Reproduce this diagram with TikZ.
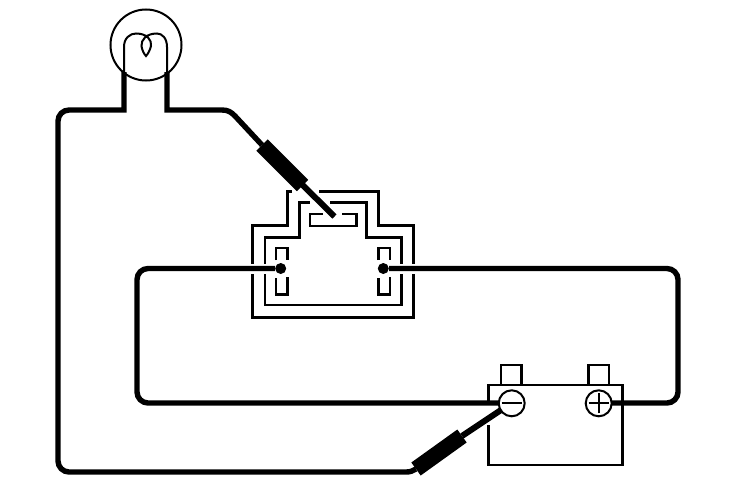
\documentclass[tikz,border=0pt]{standalone}
\tikzset{
  wire/.style={line width=5.4pt,line join=miter},
  thin line/.style={line width=2.5pt,line join=miter},
  fine line/.style={line width=2pt},
  sleeve/.style={line width=16pt,line cap=butt},
  dotnode/.style={circle,fill=black,inner sep=0pt,minimum size=11pt},
  terminal/.style={circle,draw=black,fill=white,line width=2pt,inner sep=0pt,minimum size=26pt},
  bulbglass/.style={circle,draw=black,line width=2pt,inner sep=0pt,minimum size=71pt},
}
\begin{document}
\begin{tikzpicture}[x=1pt,y=-1pt]
\useasboundingbox (0,0) rectangle (750,498);
% named places
\node[bulbglass] (bulb) at (146,45) {};
\coordinate (bl) at (124,72);
\coordinate (br) at (167,72);
\node[dotnode] (pinL) at (280.7,268.5) {};
\node[dotnode] (pinR) at (383.3,268.5) {};
\coordinate (pinT) at (334.5,216.5);
\coordinate (sl1) at (262,145);
\coordinate (sl2) at (302.5,185.5);
\coordinate (sb1) at (416,469);
\coordinate (sb2) at (462,436);
% filament
\draw[fine line] (bl) -- (124,47) .. controls (124,38) and (130,33.5) .. (136,33.5)
  .. controls (147,33.5) and (152,40) .. (151,46)
  .. controls (150,50) and (148,54) .. (146,56)
  .. controls (144,54) and (142,50) .. (141.5,46)
  .. controls (141,40) and (146,33.5) .. (157,33.5)
  .. controls (162,33.5) and (167,38) .. (167,47) -- (br);
% connector housing
\draw[thin line] (252.7,263.5) -- (252.7,225.7) -- (287.3,225.7) -- (287.3,191.7) -- (292,191.7);
\draw[thin line] (319.3,191.7) -- (378.7,191.7) -- (378.7,225.7) -- (413.3,225.7) -- (413.3,263.5);
\draw[thin line] (413.3,274) -- (413.3,317.3) -- (252.7,317.3) -- (252.7,274);
\draw[thin line] (265,263.5) -- (265,237.3) -- (299.3,237.3) -- (299.3,202.7) -- (310,202.7);
\draw[thin line] (330,202.7) -- (366.7,202.7) -- (366.7,237.3) -- (401.3,237.3) -- (401.3,263.5);
\draw[thin line] (401.3,274) -- (401.3,305) -- (265,305) -- (265,274);
\draw[thin line] (323,214) -- (310,214) -- (310,226) -- (356.7,226) -- (356.7,214) -- (341.7,214);
% pin sockets
\draw[thin line] (276,260) -- (276,248) -- (287.7,248) -- (287.7,260);
\draw[thin line] (276,278) -- (276,294.3) -- (287.7,294.3) -- (287.7,277);
\draw[thin line] (378.3,260) -- (378.3,248) -- (390,248) -- (390,260);
\draw[thin line] (378.3,278) -- (378.3,294.3) -- (390,294.3) -- (390,277);
% battery
\draw[thin line] (501,385) -- (501,365) -- (521.5,365) -- (521.5,385);
\draw[thin line] (588.3,385) -- (588.3,365) -- (609,365) -- (609,385);
\draw[thin line] (488.3,403) -- (488.3,385) -- (622.7,385) -- (622.7,465) -- (488.3,465) -- (488.3,425);
% wires
\draw[wire,rounded corners=11pt] (pinL) -- (137,268.5) -- (137,403) -- (511,403);
\draw[wire,rounded corners=11pt] (pinR) -- (678,268.5) -- (678,403) -- (598,403);
\draw[wire] (sb1) .. controls (413,471) and (410,472) .. (406,472)
  [rounded corners=11pt] -- (58,472) -- (58,110) -- (100,110) [sharp corners] -- (124,110) -- (bl);
\draw[wire] (br) -- (167,110) -- (222,110) .. controls (228,110) and (231,112) .. (235,116) -- (sl1);
\draw[wire,line width=6pt] (sl1) -- (pinT);
\draw[sleeve] (sl1) -- (sl2);
\draw[wire,line width=6pt] (sb2) -- (504,408);
\draw[sleeve] (sb1) -- (sb2);
% battery terminals
\node[terminal] (minus) at (511.7,403.3) {};
\node[terminal] (plus) at (598.7,403.3) {};
\draw[fine line] ([xshift=-10pt]minus.center) -- ([xshift=10pt]minus.center);
\draw[fine line] ([xshift=-10pt]plus.center) -- ([xshift=10pt]plus.center);
\draw[fine line] ([yshift=-10pt]plus.center) -- ([yshift=10pt]plus.center);
\end{tikzpicture}
\end{document}
